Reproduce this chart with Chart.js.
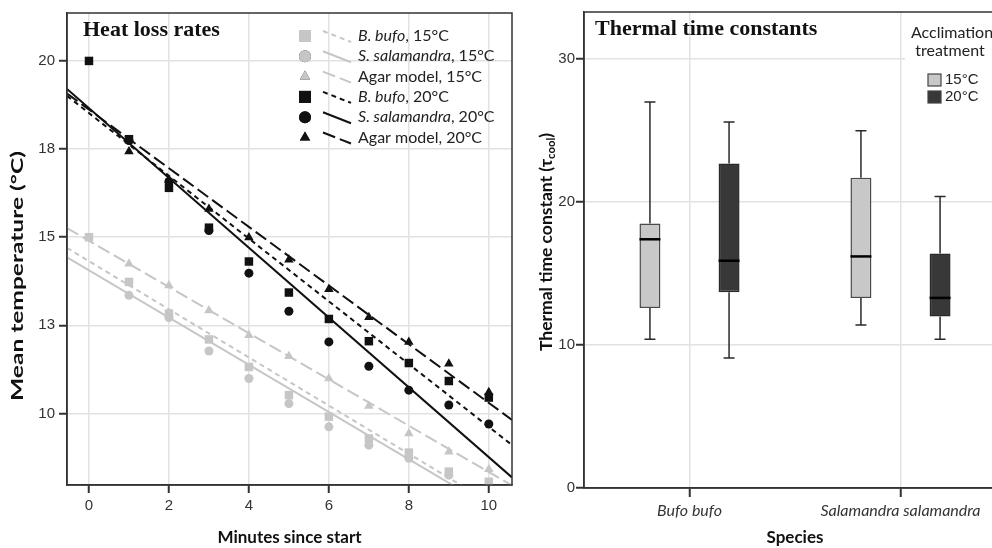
<!DOCTYPE html>
<html>
<head>
<meta charset="utf-8">
<script src="https://cdn.jsdelivr.net/npm/chart.js@4/dist/chart.umd.min.js"></script>
<style>
  html, body { margin: 0; padding: 0; background: #fff; overflow: hidden; width: 992px; height: 548px; }
  #left { position: absolute; left: 0; top: 0; }
  #right { position: absolute; left: 520px; top: 0; }
</style>
</head>
<body>
<canvas id="left" width="520" height="548"></canvas>
<canvas id="right" width="500" height="548"></canvas>
<script>
// ---- left panel: heat loss rates ----
const minutes = [0, 1, 2, 3, 4, 5, 6, 7, 8, 9, 10];
const bufo15 = [15.0, 13.73, 12.83, 12.10, 11.32, 10.52, 9.91, 9.29, 8.89, 8.35, 8.06];
const sala15 = [null, 13.35, 12.72, 11.77, 10.99, 10.28, 9.62, 9.10, 8.73, 8.25, 7.8];
const agar15 = [null, 14.25, 13.63, 12.92, 12.22, 11.62, 10.99, 10.21, 9.43, 8.91, 8.42];
const bufo20 = [20.0, 17.78, 16.40, 15.27, 14.31, 13.43, 12.68, 12.05, 11.43, 10.92, 10.45];
const sala20 = [null, 17.74, 16.58, 15.19, 13.98, 12.90, 12.03, 11.34, 10.66, 10.24, 9.70];
const agar20 = [null, 17.43, 16.62, 15.80, 14.99, 14.36, 13.52, 12.73, 12.03, 11.41, 10.60];

// fit lines: intercept at minute 0 and slope per minute
const fitIntercept = [14.32, 14.06, 14.90, 18.52, 18.66, 18.62];
const fitSlope = [-0.683, -0.670, -0.656, -0.890, -0.990, -0.832];

const labelItalic = ['B. bufo', 'S. salamandra', '', 'B. bufo', 'S. salamandra', ''];
const labelRest = [', 15°C', ', 15°C', 'Agar model, 15°C', ', 20°C', ', 20°C', 'Agar model, 20°C'];

const minuteTicks = [0, 2, 4, 6, 8, 10];
const tempTicks = [10, 12.5, 15, 17.5, 20];
const tempTickLabels = ['10', '13', '15', '18', '20'];

// ---- right panel: thermal time constants ----
const species = ['Bufo bufo', 'Salamandra salamandra'];
const treatments = ['15°C', '20°C'];
const min15 = [10.4, 11.4];
const q1_15 = [12.6, 13.3];
const med15 = [17.4, 16.2];
const q3_15 = [18.5, 21.7];
const max15 = [27.0, 25.0];
const min20 = [9.1, 10.4];
const q1_20 = [13.7, 12.0];
const med20 = [15.9, 13.3];
const q3_20 = [22.7, 16.4];
const max20 = [25.6, 20.4];
const tauTicks = [0, 10, 20, 30];

// styling
const grey = '#c6c6c6', black = '#111';
const series = [bufo15, sala15, agar15, bufo20, sala20, agar20];
const colors = [grey, grey, grey, black, black, black];
const shapes = ['rect', 'circle', 'triangle', 'rect', 'circle', 'triangle'];
const radii = { rect: 6, circle: 4.5, triangle: 5.5 };
const dashes = [[5, 4], [], [13, 5], [5, 4], [], [13, 5]];
const xMin = -0.55, xMax = 10.58;
const gridColor = '#e2e2e2', axisColor = '#333', tickText = '#333';
const sans = 'Lato';

Chart.defaults.animation = false;
Chart.defaults.events = [];

const frame = {
  id: 'frame',
  afterDraw(chart) {
    const { ctx, chartArea: a } = chart;
    ctx.save();
    ctx.strokeStyle = axisColor;
    ctx.lineWidth = 1.5;
    ctx.strokeRect(a.left, a.top, a.right - a.left, a.bottom - a.top);
    ctx.restore();
  }
};

// rotated axis title stretched along its length to the given span
function drawYTitle(ctx, x, y, span, draw) {
  ctx.save();
  ctx.translate(x, y);
  ctx.rotate(-Math.PI / 2);
  draw(span);
  ctx.restore();
}

const heatLegend = {
  id: 'heatLegend',
  afterDatasetsDraw(chart) {
    const { ctx, chartArea: a } = chart;
    ctx.save();
    ctx.font = 'bold 22px "Liberation Serif"';
    ctx.fillStyle = '#111';
    ctx.textBaseline = 'alphabetic';
    ctx.fillText('Heat loss rates', a.left + 16, a.top + 23);

    const x0 = a.right - 207;
    labelRest.forEach((rest, i) => {
      const y = a.top + 23 + i * 20.3;
      Chart.helpers.drawPoint(ctx, {
        pointStyle: shapes[i], radius: shapes[i] === 'rect' ? 8.5 : 6, rotation: 0, borderWidth: 0
      }, x0, y);
      ctx.fillStyle = colors[i];
      ctx.fill();
      ctx.beginPath();
      ctx.strokeStyle = colors[i];
      ctx.lineWidth = 2;
      ctx.setLineDash(dashes[i]);
      ctx.moveTo(x0 + 18, y - 5);
      ctx.lineTo(x0 + 46, y + 6);
      ctx.stroke();
      ctx.setLineDash([]);
      ctx.fillStyle = '#222';
      ctx.textBaseline = 'middle';
      let tx = x0 + 53;
      if (labelItalic[i]) {
        ctx.font = 'italic 16px ' + sans;
        ctx.fillText(labelItalic[i], tx, y);
        tx += ctx.measureText(labelItalic[i]).width;
      }
      ctx.font = '16px ' + sans;
      ctx.fillText(rest, tx, y);
    });

    drawYTitle(ctx, 18, (a.top + a.bottom) / 2 + 27, 250, span => {
      const t = 'Mean temperature (°C)';
      ctx.font = 'bold 17px ' + sans;
      ctx.fillStyle = '#111';
      ctx.textAlign = 'center';
      ctx.textBaseline = 'middle';
      ctx.scale(span / ctx.measureText(t).width, 1);
      ctx.fillText(t, 0, 0);
    });
    ctx.restore();
  }
};

const pointSets = series.map((vals, i) => ({
  type: 'scatter',
  data: minutes.map((m, j) => ({ x: m, y: vals[j] })),
  pointStyle: shapes[i],
  pointRadius: radii[shapes[i]],
  backgroundColor: colors[i],
  borderColor: colors[i],
  borderWidth: 0,
  order: i
}));

const fitSets = fitIntercept.map((a, i) => ({
  type: 'line',
  data: [xMin, xMax].map(x => ({ x, y: a + fitSlope[i] * x })),
  borderColor: colors[i],
  borderWidth: 2,
  borderDash: dashes[i],
  pointRadius: 0,
  fill: false,
  order: 10 + i
}));

new Chart(document.getElementById('left'), {
  type: 'scatter',
  data: { datasets: [...pointSets, ...fitSets] },
  options: {
    responsive: false,
    layout: { padding: { top: 12, right: 8, left: 0, bottom: 0 } },
    plugins: { legend: { display: false }, tooltip: { enabled: false } },
    scales: {
      x: {
        type: 'linear', min: xMin, max: xMax,
        afterBuildTicks: ax => { ax.ticks = minuteTicks.map(v => ({ value: v })); },
        afterFit: s => { s.height = 63; },
        ticks: { color: tickText, font: { family: 'Liberation Sans', size: 15 }, padding: 4 },
        grid: { color: gridColor, lineWidth: 1.5, tickColor: axisColor, tickLength: 8, tickWidth: 2 },
        border: { color: axisColor, width: 1.5 },
        title: { display: true, text: 'Minutes since start', color: '#111',
          font: { family: sans, size: 17, weight: 'bold' }, padding: { top: 0, bottom: 0 } }
      },
      y: {
        type: 'linear', min: 7.97, max: 21.36,
        afterBuildTicks: ax => { ax.ticks = tempTicks.map(v => ({ value: v })); },
        afterFit: s => { s.width = 67; },
        ticks: { color: tickText, font: { family: 'Liberation Sans', size: 15 }, padding: 4,
          callback: v => tempTickLabels[tempTicks.indexOf(v)] },
        grid: { color: gridColor, lineWidth: 1.5, tickColor: axisColor, tickLength: 8, tickWidth: 2 },
        border: { color: axisColor, width: 1.5 }
      }
    }
  },
  plugins: [frame, heatLegend]
});

// ---- box plot ----
const boxStats = [
  { min: min15, med: med15, max: max15 },
  { min: min20, med: med20, max: max20 }
];

const whiskers = {
  id: 'whiskers',
  afterDatasetsDraw(chart) {
    const { ctx } = chart;
    const y = chart.scales.y;
    ctx.save();
    boxStats.forEach((st, d) => {
      chart.getDatasetMeta(d).data.forEach((bar, i) => {
        const { x, width } = bar.getProps(['x', 'width']);
        const box = chart.data.datasets[d].data[i];
        ctx.strokeStyle = '#2a2a2a';
        ctx.lineWidth = 1.5;
        ctx.beginPath();
        ctx.moveTo(x, y.getPixelForValue(st.max[i]));
        ctx.lineTo(x, y.getPixelForValue(box[1]));
        ctx.moveTo(x, y.getPixelForValue(box[0]));
        ctx.lineTo(x, y.getPixelForValue(st.min[i]));
        [st.max[i], st.min[i]].forEach(v => {
          ctx.moveTo(x - 5.5, y.getPixelForValue(v));
          ctx.lineTo(x + 5.5, y.getPixelForValue(v));
        });
        ctx.stroke();
        ctx.strokeStyle = '#000';
        ctx.lineWidth = 2.5;
        ctx.beginPath();
        ctx.moveTo(x - width / 2, y.getPixelForValue(st.med[i]));
        ctx.lineTo(x + width / 2, y.getPixelForValue(st.med[i]));
        ctx.stroke();
      });
    });
    ctx.restore();
  }
};

const thermalDecor = {
  id: 'thermalDecor',
  afterDatasetsDraw(chart) {
    const { ctx, chartArea: a, width } = chart;
    ctx.save();
    ctx.font = 'bold 22px "Liberation Serif"';
    ctx.fillStyle = '#111';
    ctx.fillText('Thermal time constants', a.left + 11, a.top + 23);

    // legend
    const lx = 385;
    ctx.fillStyle = '#fff';
    ctx.fillRect(lx, a.top + 1, width - lx, 98);
    ctx.fillStyle = '#222';
    ctx.textAlign = 'center';
    ctx.textBaseline = 'middle';
    ctx.font = '16px ' + sans;
    ctx.fillText('Acclimation', 432, 33);
    ctx.fillText('treatment', 430, 51);
    ctx.textAlign = 'left';
    ctx.font = '15px "Liberation Sans"';
    treatments.forEach((t, i) => {
      const yy = 80 + i * 17;
      ctx.fillStyle = chart.data.datasets[i].backgroundColor;
      ctx.fillRect(408, yy - 6, 13, 12);
      ctx.strokeStyle = '#444';
      ctx.lineWidth = 1.2;
      ctx.strokeRect(408, yy - 6, 13, 12);
      ctx.fillStyle = '#222';
      ctx.fillText(t, 425, yy);
    });

    // y axis title with subscript
    drawYTitle(ctx, 27, (a.top + a.bottom) / 2 - 8, 218, span => {
      const main = 'Thermal time constant (τ';
      ctx.font = 'bold 17px ' + sans;
      const w1 = ctx.measureText(main).width;
      const w3 = ctx.measureText(')').width;
      ctx.font = 'bold 11px ' + sans;
      const w2 = ctx.measureText('cool').width;
      const total = w1 + w2 + w3;
      ctx.scale(span / total, 1);
      let tx = -total / 2;
      ctx.fillStyle = '#111';
      ctx.textAlign = 'left';
      ctx.textBaseline = 'middle';
      ctx.font = 'bold 17px ' + sans;
      ctx.fillText(main, tx, 0);
      tx += w1;
      ctx.font = 'bold 11px ' + sans;
      ctx.fillText('cool', tx, 4);
      tx += w2;
      ctx.font = 'bold 17px ' + sans;
      ctx.fillText(')', tx, 0);
    });
    ctx.restore();
  }
};

new Chart(document.getElementById('right'), {
  type: 'bar',
  data: {
    labels: species,
    datasets: [
      { label: treatments[0], data: species.map((s, i) => [q1_15[i], q3_15[i]]),
        backgroundColor: '#c8c8c8', borderColor: '#4a4a4a', borderWidth: 1.5, borderSkipped: false },
      { label: treatments[1], data: species.map((s, i) => [q1_20[i], q3_20[i]]),
        backgroundColor: '#383838', borderColor: '#2a2a2a', borderWidth: 1.5, borderSkipped: false }
    ]
  },
  options: {
    responsive: false,
    categoryPercentage: 0.75,
    barPercentage: 0.265,
    layout: { padding: { top: 12, right: 14, left: 0, bottom: 0 } },
    plugins: { legend: { display: false }, tooltip: { enabled: false } },
    scales: {
      x: {
        offset: true,
        afterFit: s => { s.height = 60; },
        ticks: { color: tickText, font: { family: sans, size: 16, style: 'italic' }, padding: 4 },
        grid: { offset: false, color: gridColor, lineWidth: 1.5, tickColor: axisColor, tickLength: 9, tickWidth: 2 },
        border: { color: axisColor, width: 1.5 },
        title: { display: true, text: 'Species', color: '#111',
          font: { family: sans, size: 17, weight: 'bold' }, padding: { top: 0, bottom: 0 } }
      },
      y: {
        min: 0, max: 33.3,
        afterBuildTicks: ax => { ax.ticks = tauTicks.map(v => ({ value: v })); },
        afterFit: s => { s.width = 64; },
        ticks: { color: tickText, font: { family: 'Liberation Sans', size: 15 }, padding: 1 },
        grid: { color: gridColor, lineWidth: 1.5, tickColor: axisColor, tickLength: 8, tickWidth: 2 },
        border: { color: axisColor, width: 1.5 }
      }
    }
  },
  plugins: [whiskers, thermalDecor, frame]
});
</script>
</body>
</html>
